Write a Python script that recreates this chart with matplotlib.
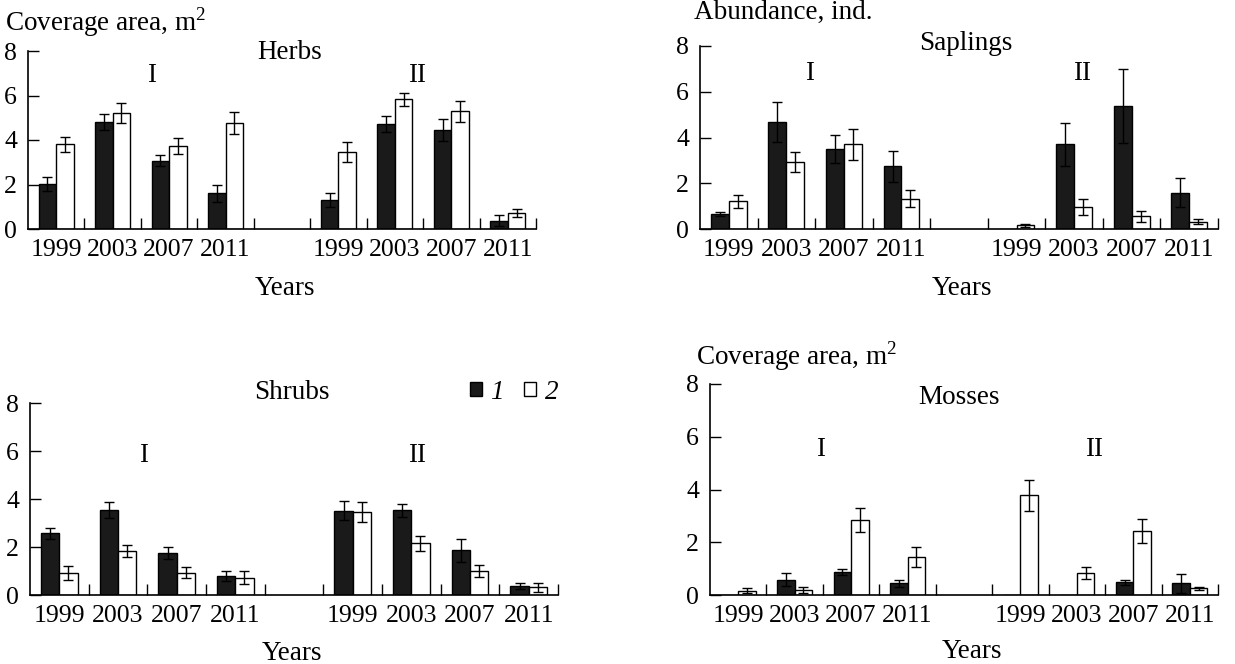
import numpy as np
import matplotlib.pyplot as plt
from matplotlib.patches import Patch

plt.rcParams['font.family'] = ['Liberation Serif', 'DejaVu Serif']
plt.rcParams['mathtext.fontset'] = 'custom'
plt.rcParams['mathtext.rm'] = 'Liberation Serif'

years = ['1999', '2003', '2007', '2011']
# sites I (first 4) and II (last 4); series 1 = black, series 2 = white
herbs_1 = [2.04, 4.82, 3.06, 1.60, 1.30, 4.72, 4.45, 0.38]
herbs_1_err = [0.31, 0.35, 0.25, 0.40, 0.30, 0.38, 0.48, 0.25]
herbs_2 = [3.80, 5.23, 3.73, 4.76, 3.48, 5.84, 5.30, 0.70]
herbs_2_err = [0.35, 0.45, 0.37, 0.50, 0.45, 0.29, 0.47, 0.18]

saplings_1 = [0.66, 4.68, 3.50, 2.74, 0.0, 3.70, 5.38, 1.59]
saplings_1_err = [0.08, 0.89, 0.61, 0.69, 0.0, 0.95, 1.62, 0.65]
saplings_2 = [1.21, 2.93, 3.70, 1.33, 0.16, 0.96, 0.55, 0.32]
saplings_2_err = [0.28, 0.42, 0.67, 0.37, 0.06, 0.35, 0.25, 0.12]

shrubs_1 = [2.57, 3.53, 1.74, 0.79, 3.51, 3.53, 1.86, 0.375]
shrubs_1_err = [0.23, 0.33, 0.26, 0.20, 0.39, 0.26, 0.49, 0.115]
shrubs_2 = [0.92, 1.85, 0.92, 0.72, 3.47, 2.15, 1.01, 0.32]
shrubs_2_err = [0.28, 0.25, 0.23, 0.27, 0.42, 0.32, 0.25, 0.19]

mosses_1 = [0.0, 0.58, 0.87, 0.44, 0.0, 0.0, 0.48, 0.44]
mosses_1_err = [0.0, 0.24, 0.12, 0.13, 0.0, 0.0, 0.10, 0.36]
mosses_2 = [0.16, 0.19, 2.84, 1.45, 3.78, 0.83, 2.43, 0.25]
mosses_2_err = [0.09, 0.10, 0.45, 0.37, 0.59, 0.23, 0.47, 0.07]

x = np.array([0, 1, 2, 3, 5, 6, 7, 8])
w = 0.31
FS = 19.5
TFS = 18.5

fig = plt.figure(figsize=(12.35, 6.64), dpi=100)


def panel(rect, v1, e1, v2, e2, name, title_y, title_x, roman_pos):
    ax = fig.add_axes(rect)
    v1, e1, v2, e2 = map(np.array, (v1, e1, v2, e2))
    ax.bar(x - w / 2, v1, w, color='#1a1a1a', edgecolor='black', lw=1, zorder=2)
    ax.bar(x + w / 2, v2, w, color='white', edgecolor='black', lw=1, zorder=2)
    for xs, v, e in [(x - w / 2, v1, e1), (x + w / 2, v2, e2)]:
        m = v > 0
        ax.errorbar(xs[m], v[m], yerr=e[m], fmt='none', ecolor='black',
                    elinewidth=1, capsize=3.5, capthick=1, zorder=3)
    ax.set_xlim(-0.5, 8.5)
    ax.set_ylim(0, 8)
    ax.set_xticks(x)
    ax.set_xticklabels(years * 2)
    ax.set_xticks(np.arange(0.5, 9, 1), minor=True)
    ax.set_yticks([0, 2, 4, 6, 8])
    ax.tick_params(axis='x', which='major', length=0, pad=7, labelsize=TFS)
    ax.tick_params(axis='x', which='minor', direction='in', length=8, width=1)
    ax.tick_params(axis='y', direction='in', length=8, width=1, pad=8, labelsize=TFS)
    for s in ['top', 'right']:
        ax.spines[s].set_visible(False)
    for s in ['left', 'bottom']:
        ax.spines[s].set_linewidth(1.2)
    ax.text(title_x, title_y, name, transform=ax.transAxes, ha='center',
            va='center', fontsize=FS)
    (ix, iy), (iix, iiy) = roman_pos
    ax.text(ix, iy, 'I', ha='center', va='center', fontsize=FS)
    ax.text(iix, iiy, 'II', ha='center', va='center', fontsize=FS)
    return ax


W, H = 1235, 664
panel([28 / W, 1 - 229 / H, 508 / W, 178 / H], herbs_1, herbs_1_err,
      herbs_2, herbs_2_err, 'Herbs', 0.989, 0.516, [(1.69, 6.92), (6.4, 6.92)])
panel([700 / W, 1 - 229 / H, 518 / W, 183 / H], saplings_1, saplings_1_err,
      saplings_2, saplings_2_err, 'Saplings', 1.016, 0.513, [(1.4, 6.78), (6.14, 6.78)])
ax3 = panel([30 / W, 1 - 595 / H, 528 / W, 192 / H], shrubs_1, shrubs_1_err,
            shrubs_2, shrubs_2_err, 'Shrubs', 1.057, 0.496, [(1.43, 5.83), (6.1, 5.83)])
panel([710 / W, 1 - 595 / H, 508 / W, 211 / H], mosses_1, mosses_1_err,
      mosses_2, mosses_2_err, 'Mosses', 0.938, 0.49, [(1.45, 5.5), (6.3, 5.5)])

handles = [Patch(facecolor='#1a1a1a', edgecolor='black'),
           Patch(facecolor='white', edgecolor='black')]
ax3.legend(handles, ['1', '2'], ncol=2, frameon=False, loc='center right',
           bbox_to_anchor=(1.026, 1.057), borderpad=0, handlelength=0.45,
           handleheight=0.45, handletextpad=0.3, columnspacing=0.75,
           prop={'style': 'italic', 'size': FS})

fig.text(5 / W, 1 - 22 / H, 'Coverage area, m$^2$', ha='left', va='center', fontsize=FS)
fig.text(694 / W, 1 - 12 / H, 'Abundance, ind.', ha='left', va='center', fontsize=FS)
fig.text(696 / W, 1 - 356 / H, 'Coverage area, m$^2$', ha='left', va='center', fontsize=FS)
for xp, yp in [(285, 288), (962, 288), (292, 653), (972, 652)]:
    fig.text(xp / W, 1 - yp / H, 'Years', ha='center', va='center', fontsize=FS)

fig.savefig('out.png', dpi=100)
